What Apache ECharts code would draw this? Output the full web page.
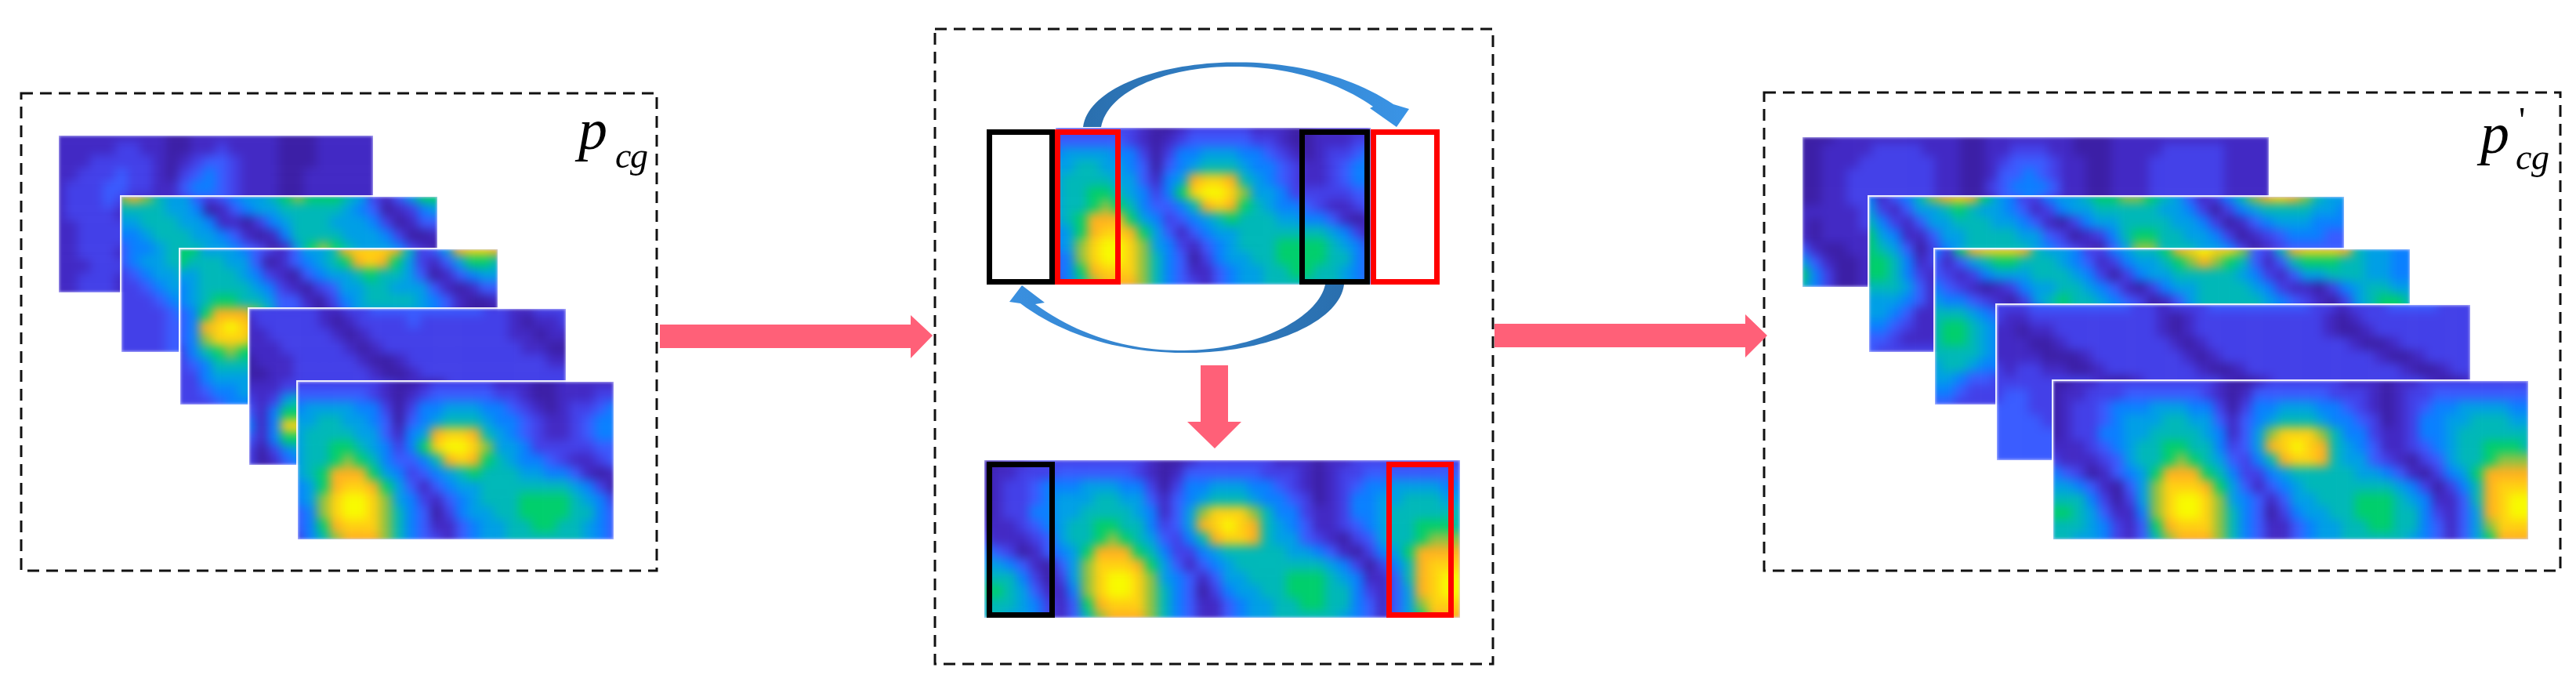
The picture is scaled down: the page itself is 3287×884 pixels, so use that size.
<!DOCTYPE html>
<html>
<head>
<meta charset="utf-8">
<title>p_cg padding</title>
<script src="https://cdn.jsdelivr.net/npm/echarts@6/dist/echarts.min.js"></script>
<style>
  html, body { margin: 0; padding: 0; background: #fff; }
  #page { position: relative; width: 3287px; height: 884px; overflow: hidden; }
  .frame { position: absolute; overflow: hidden; box-shadow: 0 0 0 2px rgba(255,255,255,.9); }
  .frame::after { content: ''; position: absolute; left: 0; right: 0; top: 0; bottom: 0;
    box-shadow: inset 0 0 3px 1px rgba(205,205,255,.75); }
  .heat { position: absolute; filter: blur(6.5px); }
  #overlay { position: absolute; left: 0; top: 0; width: 3287px; height: 884px; z-index: 50; }
</style>
</head>
<body>
<div id="page"><div id="overlay"></div></div>
<script>
// colour levels, one char per cell: 0-9, a, b. short rows = hidden behind next frame
var levels = ['#3c1fa6','#4229c4','#4340e8','#3a5cff','#0a80ff','#009fe6','#00b8b8','#00cf6c','#8cc243','#ffb020','#ffd012','#f8fa00'];

var left1 = ['11111111100111111100011111','11111221100112111100011111','11122222101233211100011111',
  '11222322102343211100111111','12223322113443211100111111','12223211112333211100111111',
  '12222111','11222211','11222211','11222111','11122211','11222111','11222111'];
var left2 = ['89865532345567877765213577','66665540134556666654301245','55666554110245666555420133',
  '44566655431014666655542001','34456665543201578765554210','3455666','2345566','2234556','2223455',
  '2222344','2222334','2222333','2222333'];
var left3 = ['77555432135569aaa962359aa9','766655301345679a9752135776','55666542103455676653013455',
  '45666654210235566555310133','45677665331024566665431001','34799986332013555555431000',
  '349aba9','348aaa8','2467877','2346666','2245555','2234455','2223444'];
var left4 = ['22222211223333333332211222','12222210122223222222210112','11222221012222222222211011',
  '11122222101222222222221100','01112222210012222222222211','00112222221001222222222222',
  '11122222222211002222222222','212565','314776','414aa8','314776','202455','201344'];
var left5 = ['22222221001222221110011111','33333321012333332210011122','45555442024455544321012234',
  '55665543034566654432112344','566665531459aa965432112344','56677654247abba85542222233',
  '5667876433469a976544321123','56799975423456766655443101','4579aa97531345566666665420',
  '458abba8542134566677776542','348abba8643024556677776643','3479aaa8643113455667766543',
  '24689998643213455666666543'];

var right1 = ['00011111111110011111110001111111111111','00111122221110011222110001111222221111',
  '00111222222110012333211001112222221111','00112222222110013343211001112222221111',
  '00112222222110023444311001112222221111','00112222222110013343211001112222221111',
  '1111122','1011122','1011112','3100112','5310011','7420011','6420011'];
var right2 = ['4134689a975422455677887653124689a98655','52135567655431245566666554202456666554',
  '64213556665543102455666655420134555444','75411355666655320124677665542012344433',
  '76530245666665432103588666554201233333','7764124','7764213','6665312','5554312','5543112',
  '4432111','3321112','3222222'];
var right3 = ['4279aaa9655422456679abaa83269aaa965544','31356776665431245567898763136777665544',
  '32124555666542024556666654213556665544','43210124556654310245566665421102456655',
  '54432102567665432013566666543210256776','66654321256666543102466666543210246776',
  '6776543','6776543','6666543','5665443','5543322','4432222','3322222'];
var right4 = ['22233333333221222333333332212223333222','21122222222221012222222222101222222222',
  '11011222222221012222222222100122222222','11100122222222101222222222221001222222',
  '11110001222222210122222222222210012222','21221100122222221001222222222222100122',
  '22222222100122222210012222222222221001','233222','333222','333322','333333','333333','333333'];
var right5 = ['00112222222221001222222111011222222222','01122233333321013333332221012233333333',
  '01223444555442024455544321012344555544','01223455566553134566654432012445566655',
  '012244556666541358aaa86442112445666666','111234566776642359aba96543112345667776',
  '2111235667876532469aa96553210235667888','43201345799976422456666655431024579999',
  '554310358aaa97531345666666654202469aaa','666420258abba8543135566677765411369abb',
  '776531148abba8643024556677766421359abb','6665421379aaa8643113455667766431358aaa',
  '66554213689998643113455666665431357999'];

var page = document.getElementById('page');

function drawFrame(rows, x, y, w, h, z) {
  var cols = rows[0].length, nRows = rows.length;
  var data = [];
  rows.forEach(function (row, j) {
    for (var i = 0; i < row.length; i++) data.push([i, j, parseInt(row[i], 16)]);
  });
  var cw = w / (cols - 1), ch = h / (nRows - 1), pad = 24;

  var frame = document.createElement('div');
  frame.className = 'frame';
  frame.style.cssText = 'left:' + x + 'px;top:' + y + 'px;width:' + w + 'px;height:' + h + 'px;z-index:' + z;
  var el = document.createElement('div');
  el.className = 'heat';
  el.style.cssText = 'left:' + (-pad) + 'px;top:' + (-pad) + 'px;width:' + (w + pad * 2) + 'px;height:' + (h + pad * 2) + 'px';
  frame.appendChild(el);
  page.appendChild(frame);

  var chart = echarts.init(el);
  chart.setOption({
    animation: false,
    grid: { left: pad - cw / 2, right: pad - cw / 2, top: pad - ch / 2, bottom: pad - ch / 2 },
    xAxis: { type: 'category', show: false, data: rows[0].split('').map(function (c, i) { return i; }) },
    yAxis: { type: 'category', show: false, inverse: true, data: rows.map(function (c, i) { return i; }) },
    visualMap: { show: false, min: 0, max: levels.length - 1, dimension: 2, inRange: { color: levels } },
    series: [{ type: 'heatmap', data: data, silent: true, progressive: 0 }]
  });
}

drawFrame(left1, 75, 173, 401, 200, 1);
drawFrame(left2, 155, 251, 403, 198, 2);
drawFrame(left3, 230, 318, 405, 198, 3);
drawFrame(left4, 318, 394, 404, 199, 4);
drawFrame(left5, 380, 487, 403, 201, 5);

drawFrame(left5, 1347, 163, 402, 200, 1);
drawFrame(right5, 1256, 587, 607, 201, 1);

drawFrame(right1, 2300, 175, 595, 191, 1);
drawFrame(right2, 2385, 251, 606, 198, 2);
drawFrame(right3, 2469, 318, 606, 198, 3);
drawFrame(right4, 2548, 389, 604, 198, 4);
drawFrame(right5, 2620, 486, 606, 202, 5);

// everything that is not a heat field goes on one transparent chart on top
var pink = '#ff6078';

function dashBox(x0, y0, x1, y1) {
  return { type: 'rect', shape: { x: x0, y: y0, width: x1 - x0, height: y1 - y0 },
    style: { fill: 'none', stroke: '#111', lineWidth: 3, lineDash: [15, 9] } };
}
function solidBox(x0, y0, x1, y1, color) {
  return { type: 'rect', shape: { x: x0 + 3.5, y: y0 + 3.5, width: x1 - x0 - 7, height: y1 - y0 - 7 },
    style: { fill: 'none', stroke: color, lineWidth: 7 } };
}
function poly(points, fill) {
  return { type: 'polygon', shape: { points: points }, style: { fill: fill } };
}
function bezier(p0, p1, p2, p3) {
  var out = [];
  for (var i = 0; i <= 60; i++) {
    var t = i / 60, u = 1 - t;
    out.push([
      u*u*u*p0[0] + 3*u*u*t*p1[0] + 3*u*t*t*p2[0] + t*t*t*p3[0],
      u*u*u*p0[1] + 3*u*u*t*p1[1] + 3*u*t*t*p2[1] + t*t*t*p3[1]
    ]);
  }
  return out;
}
function blueFill(from, to) {
  return { type: 'linear', x: 0, y: 0, x2: 1, y2: 0, colorStops: [
    { offset: 0, color: from }, { offset: 1, color: to } ] };
}
// y is the baseline, canvas middle of Liberation Serif sits about a third of the size above it
function mathText(x, y, str, size, italic) {
  return { type: 'text', x: x, y: y - size * 0.3375, style: { text: str, fill: '#000',
    fontFamily: 'Liberation Serif', fontStyle: italic === false ? 'normal' : 'italic', fontSize: size,
    verticalAlign: 'middle' } };
}

var upperOuter = bezier([1382,162],[1392,80],[1640,40],[1778,133]);
var upperInner = bezier([1405,162],[1420,82],[1630,50],[1752,136]);
var lowerOuter = bezier([1715,363],[1705,445],[1450,498],[1302,387]);
var lowerInner = bezier([1691,363],[1675,435],[1470,497],[1321,388]);

var overlay = echarts.init(document.getElementById('overlay'));
overlay.setOption({
  animation: false,
  backgroundColor: 'transparent',
  graphic: [
    dashBox(27, 119, 838, 728),
    dashBox(1193, 37, 1905, 847),
    dashBox(2251, 118, 3267, 728),

    solidBox(1259, 165, 1346, 363, '#000'),
    solidBox(1658, 165, 1748, 363, '#000'),
    solidBox(1346, 165, 1430, 363, '#f00'),
    solidBox(1749, 165, 1837, 363, '#f00'),
    solidBox(1259, 589, 1346, 788, '#000'),
    solidBox(1769, 589, 1855, 788, '#f00'),

    poly([[842,414],[1162,414],[1162,402],[1190,428],[1162,457],[1162,444],[842,444]], pink),
    poly([[1907,413],[2227,413],[2227,401],[2255,428],[2227,456],[2227,443],[1907,443]], pink),
    poly([[1532,466],[1567,466],[1567,538],[1584,538],[1550,572],[1515,538],[1532,538]], pink),

    poly(upperOuter.concat([[1798,139],[1782,162],[1748,138]], upperInner.slice().reverse()),
      blueFill('#2a6fae', '#3a94e6')),
    poly(lowerOuter.concat([[1288,385],[1304,364],[1333,386]], lowerInner.slice().reverse()),
      blueFill('#3a90e0', '#2a6fae')),

    mathText(738, 196, 'p', 74),
    mathText(785, 217, 'c', 46),
    mathText(804, 217, 'g', 46),
    mathText(3165, 201, 'p', 74),
    mathText(3210, 219, 'c', 46),
    mathText(3230, 219, 'g', 46),
    mathText(3214, 172, "'", 46, false)
  ]
});
</script>
</body>
</html>
